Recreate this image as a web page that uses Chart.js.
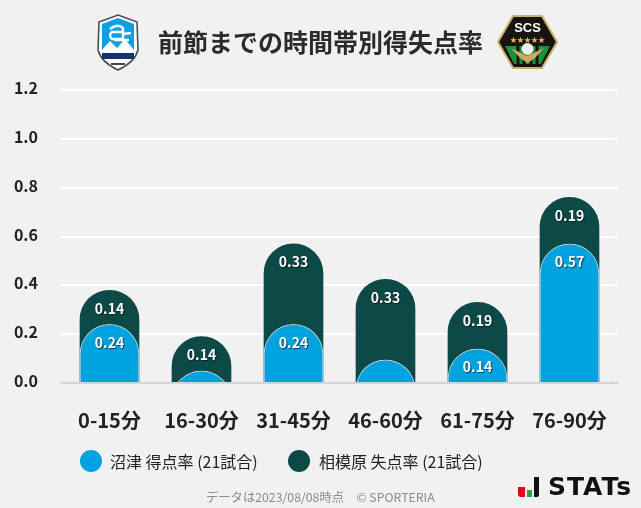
<!DOCTYPE html>
<html lang="ja">
<head>
<meta charset="utf-8">
<title>前節までの時間帯別得失点率</title>
<script src="https://cdn.jsdelivr.net/npm/chart.js@4/dist/chart.umd.min.js"></script>
<style>
    html, body { margin: 0; padding: 0; background: #f1f1f1; }
    body { width: 641px; height: 508px; position: relative; overflow: hidden; font-family: "Noto Sans CJK JP", "Noto Sans", sans-serif; color: #222; }
    #wrap { position: absolute; left: 0; top: 0; width: 641px; height: 508px; }
    .abs { position: absolute; white-space: nowrap; }
    #title { left: 158px; top: 21px; font-size: 25px; font-weight: 700; line-height: 40px; color: #2b2b2b; }
    .dot { position: absolute; width: 22px; height: 22px; border-radius: 50%; top: 450px; }
    .leg { top: 449px; font-size: 16px; line-height: 24px; color: #222; }
    #note { left: 206px; top: 488px; font-size: 12.3px; line-height: 18px; color: #8b8b8b; }
    #stats { left: 548px; top: 471px; font-family: "DejaVu Sans", sans-serif; font-size: 25px; font-weight: 700; line-height: 32px; letter-spacing: 1px; color: #111; }
</style>
</head>
<body>
<div id="wrap"><canvas id="chart" width="641" height="508"></canvas></div>

<!-- club logos -->
<svg class="abs" style="left:96px;top:14px" width="44" height="57" viewBox="0 0 44 57">
    <path d="M22 1 L41 8 L42 36 Q39 48 22 56 Q5 48 2 36 L3 8 Z" fill="#fff" stroke="#4a4f57" stroke-width="1.6"/>
    <path d="M22 4 L38 10 L38 39 L6 39 L6 10 Z" fill="#0ba0e2"/>
    <path d="M6 36 L14 27 L21 34 L29 25 L38 36 L38 39 L6 39 Z" fill="#fff"/>
    <path d="M14 15 Q22 9 27 14 L27 25 L16 25 Q12 21 16 18 L27 18 M27 20 L35 19 M18 26 L33 26" fill="none" stroke="#fff" stroke-width="2.4"/>
    <rect x="6" y="39" width="32" height="6" fill="#12356f"/>
    <path d="M15 50 L29 50" stroke="#444" stroke-width="2"/>
</svg>
<svg class="abs" style="left:497px;top:15px" width="61" height="54" viewBox="0 0 61 54">
    <path d="M16 1 L45 1 L60 27 L45 53 L16 53 L1 27 Z" fill="#17140f" stroke="#c8b26a" stroke-width="2"/>
    <path d="M8 31 L53 31 L44 49 L17 49 Z" fill="#1e8f3c"/>
    <path d="M21 31 L21 49 M27 31 L27 49 M34 31 L34 49 M40 31 L40 49" stroke="#17140f" stroke-width="3"/>
    <text x="30.5" y="17" text-anchor="middle" font-family="Liberation Sans" font-weight="700" font-size="13" fill="#fff">SCS</text>
    <text x="30.5" y="27" text-anchor="middle" font-size="7" fill="#d8c060">★★★★★</text>
    <path d="M14 33 L30 41 L47 33 L38 43 L30.5 48 L23 43 Z" fill="#c9ad5c"/>
    <circle cx="30.5" cy="34" r="6" fill="#efefe8"/>
</svg>

<div id="title" class="abs">前節までの時間帯別得失点率</div>

<div class="dot" style="left:80px;background:#00a3e0"></div>
<div class="abs leg" style="left:110px">沼津 得点率 (21試合)</div>
<div class="dot" style="left:288px;background:#0d4a47"></div>
<div class="abs leg" style="left:319px">相模原 失点率 (21試合)</div>
<div id="note" class="abs">データは2023/08/08時点　© SPORTERIA</div>

<svg class="abs" style="left:517px;top:476px" width="24" height="22" viewBox="0 0 24 22">
    <path d="M1 11 L8 11 L8 21 L4 21 Q1 21 1 18 Z" fill="#e60012"/>
    <rect x="10" y="14" width="5" height="7" fill="#1fa84a"/>
    <path d="M17 1 L22 1 L22 19 Q22 21 20 21 L17 21 Z" fill="#111"/>
</svg>
<div id="stats" class="abs">STATs</div>

<script>
// Data
const categories = ['0-15分', '16-30分', '31-45分', '46-60分', '61-75分', '76-90分'];
const numazuScored = [0.24, 0.05, 0.24, 0.095, 0.14, 0.57];
const sagamiharaConceded = [0.14, 0.14, 0.33, 0.33, 0.19, 0.19];
const yTicks = [0, 0.2, 0.4, 0.6, 0.8, 1.0, 1.2];

// dark bar sits behind the blue one, so it is drawn up to the sum
const sagamiharaTop = sagamiharaConceded.map((v, i) => v + numazuScored[i]);

// Bars start below the axis and get clipped there, otherwise Chart.js
// flattens the round top on the short ones
const barFloor = -0.4;
const barClip = { left: 0, top: 0, right: 0, bottom: -1 };

// Value labels inside the bars, small blue bars stay unlabelled
const barLabels = {
    id: 'barLabels',
    afterDatasetsDraw(chart) {
        const ctx = chart.ctx;
        ctx.save();
        ctx.font = '700 14px "Noto Sans CJK JP", "Noto Sans", sans-serif';
        ctx.textAlign = 'center';
        ctx.textBaseline = 'middle';
        ctx.fillStyle = '#fff';
        ctx.shadowColor = 'rgba(0,0,0,0.6)';
        ctx.shadowOffsetX = 1;
        ctx.shadowOffsetY = 1;
        ctx.shadowBlur = 1;
        chart.data.datasets.forEach((ds, d) => {
            chart.getDatasetMeta(d).data.forEach((bar, i) => {
                const shown = ds.shownValues[i];
                if (shown < 0.1) return;
                ctx.fillText(shown.toFixed(2), bar.x, bar.y + 18);
            });
        });
        ctx.restore();
    }
};

new Chart(document.getElementById('chart'), {
    type: 'bar',
    data: {
        labels: categories,
        datasets: [
            {
                label: '沼津 得点率 (21試合)',
                data: numazuScored,
                shownValues: numazuScored,
                base: barFloor,
                backgroundColor: '#00a3e0',
                borderColor: 'rgba(255,255,255,0.75)',
                borderWidth: 1,
                borderSkipped: 'bottom',
                borderRadius: { topLeft: 30, topRight: 30 },
                clip: barClip,
                order: 1
            },
            {
                label: '相模原 失点率 (21試合)',
                data: sagamiharaTop,
                shownValues: sagamiharaConceded,
                base: barFloor,
                backgroundColor: '#0d4a47',
                borderWidth: 0,
                borderRadius: { topLeft: 30, topRight: 30 },
                clip: barClip,
                order: 2
            }
        ]
    },
    options: {
        responsive: false,
        animation: false,
        layout: { padding: { left: 0, right: 22.5, top: 90, bottom: 65 } },
        barThickness: 59,
        plugins: {
            legend: { display: false },
            tooltip: { enabled: false }
        },
        scales: {
            x: {
                stacked: true,
                afterFit(axis) { axis.height = 60; },
                grid: { display: false },
                border: { display: false },
                ticks: { color: '#222', padding: 17, font: { size: 20, weight: '700', family: '"Noto Sans CJK JP"' } }
            },
            y: {
                min: 0,
                max: 1.2,
                afterBuildTicks(axis) { axis.ticks = yTicks.map(v => ({ value: v })); },
                afterFit(axis) { axis.width = 63.5; },
                grid: {
                    color: ctx => (ctx.tick && ctx.tick.value === 0 ? '#d4d4d4' : '#fff'),
                    lineWidth: 2,
                    tickLength: 3
                },
                border: { display: false },
                ticks: {
                    color: '#222',
                    padding: 22.5,
                    labelOffset: -2,
                    font: { size: 16, weight: '700', family: '"Noto Sans CJK JP"' },
                    callback: v => v.toFixed(1)
                }
            },
            // no labels here, it only runs the grid lines a bit past the last bar
            yRight: {
                position: 'right',
                min: 0,
                max: 1.2,
                afterBuildTicks(axis) { axis.ticks = yTicks.map(v => ({ value: v })); },
                afterFit(axis) { axis.width = 3; },
                grid: {
                    drawOnChartArea: false,
                    color: ctx => (ctx.tick && ctx.tick.value === 0 ? '#d4d4d4' : '#fff'),
                    lineWidth: 2,
                    tickLength: 3
                },
                border: { display: false },
                ticks: { display: false }
            }
        }
    },
    plugins: [barLabels]
});
</script>
</body>
</html>
